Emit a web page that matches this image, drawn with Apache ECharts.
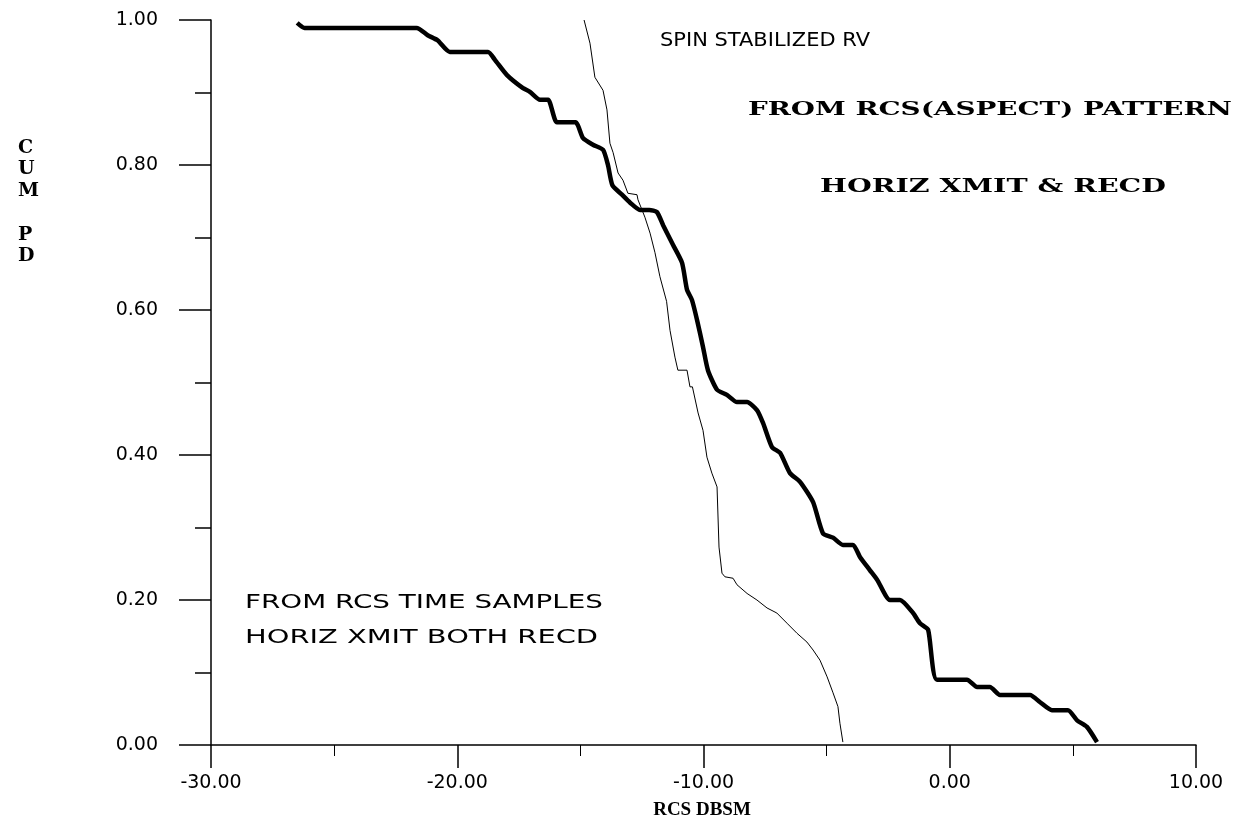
<!DOCTYPE html>
<html lang="en">
<head>
    <meta charset="UTF-8">
    <title>Cum Pd vs RCS</title>
    <script src="https://cdn.jsdelivr.net/npm/echarts@6/dist/echarts.min.js"></script>
    <style>
        html, body { margin: 0; padding: 0; background: #fff; }
        #chart { width: 1256px; height: 838px; }
    </style>
</head>
<body>
<div id="chart"></div>
<script>
    // RCS(aspect) pattern curve - thick line
    var aspectRcs = [-26.5, -26.2, -21.65, -21.2, -20.8, -20.3, -18.75, -18.47, -17.98, -17.33, -17.05,
        -16.64, -16.31, -15.95, -15.2, -14.89, -14.49, -14.08, -13.88, -13.7, -13.31, -12.98, -12.58,
        -12.2, -11.89, -11.64, -11.24, -10.87, -10.67, -10.47, -10.26, -10.02, -9.82, -9.45, -9.05,
        -8.64, -8.23, -7.83, -7.58, -7.22, -6.89, -6.49, -6.08, -5.55, -5.15, -4.74, -4.34, -3.93,
        -3.64, -3.24, -2.95, -2.43, -2.02, -1.49, -1.21, -0.88, -0.52, 0.70, 1.11, 1.63, 2.04, 3.26,
        3.67, 4.15, 4.80, 5.17, 5.57, 5.98];
    var aspectPd = [0.996, 0.989, 0.989, 0.979, 0.972, 0.956, 0.956, 0.945, 0.924, 0.906, 0.901,
        0.890, 0.890, 0.859, 0.859, 0.837, 0.828, 0.821, 0.800, 0.772, 0.759, 0.748, 0.738,
        0.738, 0.735, 0.717, 0.690, 0.665, 0.628, 0.614, 0.586, 0.549, 0.517, 0.490, 0.483,
        0.473, 0.473, 0.462, 0.444, 0.411, 0.403, 0.375, 0.363, 0.335, 0.292, 0.286, 0.276, 0.276,
        0.259, 0.241, 0.228, 0.200, 0.200, 0.182, 0.168, 0.159, 0.090, 0.090, 0.080, 0.080, 0.069, 0.069,
        0.059, 0.048, 0.048, 0.034, 0.025, 0.004];

    // RCS time samples curve - thin line
    var timeRcs = [-14.85, -14.61, -14.41, -14.08, -13.92, -13.80, -13.67, -13.47, -13.27, -13.07,
        -12.70, -12.66, -12.38, -12.17, -11.97, -11.77, -11.5, -11.36, -11.16, -11.04, -10.67,
        -10.55, -10.45, -10.22, -10.02, -9.86, -9.66, -9.45, -9.37, -9.25, -9.13, -8.80, -8.64,
        -8.23, -7.83, -7.42, -7.02, -6.61, -6.20, -5.80, -5.55, -5.27, -4.98, -4.74, -4.54, -4.46, -4.34];
    var timePd = [1.000, 0.968, 0.921, 0.903, 0.876, 0.830, 0.817, 0.789, 0.779, 0.761,
        0.759, 0.752, 0.728, 0.706, 0.679, 0.646, 0.612, 0.572, 0.535, 0.517, 0.517,
        0.494, 0.494, 0.458, 0.434, 0.397, 0.375, 0.356, 0.273, 0.237, 0.232, 0.230, 0.221,
        0.209, 0.200, 0.189, 0.182, 0.168, 0.154, 0.142, 0.131, 0.117, 0.094, 0.072, 0.053, 0.030, 0.004];

    var xTicks = [-30, -20, -10, 0, 10];
    var yTicks = [0, 0.2, 0.4, 0.6, 0.8, 1.0];

    function zip(xs, ys) {
        var out = [];
        for (var i = 0; i < xs.length; i++) out.push([xs[i], ys[i]]);
        return out;
    }

    // stretch a text to a given width (the old plot font is very wide)
    var ctx = document.createElement('canvas').getContext('2d');
    function wideText(str, left, cy, width, font) {
        ctx.font = font;
        var w = ctx.measureText(str).width;
        return {
            type: 'text',
            x: left,
            y: cy,
            scaleX: width / w,
            style: {
                text: str,
                font: font,
                fill: '#000',
                verticalAlign: 'middle'
            },
            silent: true
        };
    }

    var sansFont = '20px "DejaVu Sans"';
    var boldSerif = 'bold 19px "DejaVu Serif"';

    var chart = echarts.init(document.getElementById('chart'));
    var option = {
        animation: false,
        backgroundColor: '#fff',
        grid: { left: 211, top: 20, right: 60, bottom: 93 },
        xAxis: {
            type: 'value',
            min: xTicks[0],
            max: xTicks[xTicks.length - 1],
            interval: 10,
            axisLine: { onZero: false, lineStyle: { color: '#000', width: 1.5 } },
            axisTick: { show: true, length: 23, lineStyle: { color: '#000', width: 1.5 } },
            minorTick: { show: true, splitNumber: 2, length: 11, lineStyle: { color: '#000', width: 1 } },
            axisLabel: {
                color: '#000', fontFamily: 'DejaVu Sans', fontSize: 19, margin: 29,
                formatter: function (v) { return v.toFixed(2); }
            },
            splitLine: { show: false }
        },
        yAxis: {
            type: 'value',
            min: yTicks[0],
            max: yTicks[yTicks.length - 1],
            interval: 0.2,
            axisLine: { onZero: false, lineStyle: { color: '#000', width: 1.5 } },
            axisTick: { show: true, length: 32, lineStyle: { color: '#000', width: 1.5 } },
            minorTick: { show: true, splitNumber: 2, length: 16, lineStyle: { color: '#000', width: 1.5 } },
            axisLabel: {
                color: '#000', fontFamily: 'DejaVu Sans', fontSize: 19, margin: 53,
                formatter: function (v) { return v.toFixed(2); }
            },
            splitLine: { show: false }
        },
        graphic: [
            wideText('SPIN STABILIZED RV', 660, 41, 210, sansFont),
            wideText('FROM RCS(ASPECT) PATTERN', 748, 110, 484, boldSerif),
            wideText('HORIZ XMIT & RECD', 820, 187, 346, boldSerif),
            wideText('FROM RCS TIME SAMPLES', 245, 603, 358, sansFont),
            wideText('HORIZ XMIT BOTH RECD', 245, 638, 353, sansFont),
            {
                type: 'text',
                x: 702, y: 810,
                style: {
                    text: 'RCS DBSM',
                    font: 'bold 19px "Liberation Serif"',
                    fill: '#000',
                    align: 'center',
                    verticalAlign: 'middle'
                }
            },
            {
                type: 'text',
                x: 18, y: 137,
                style: {
                    text: 'C\nU\nM\n\nP\nD',
                    font: 'bold 19px "DejaVu Serif"',
                    lineHeight: 21.7,
                    fill: '#000'
                }
            }
        ],
        series: [{
            name: 'FROM RCS(ASPECT) PATTERN',
            type: 'line',
            showSymbol: false,
            smooth: 0.2,
            lineStyle: { color: '#000', width: 4.5 },
            data: zip(aspectRcs, aspectPd)
        }, {
            name: 'FROM RCS TIME SAMPLES',
            type: 'line',
            showSymbol: false,
            lineStyle: { color: '#000', width: 1 },
            data: zip(timeRcs, timePd)
        }]
    };
    chart.setOption(option);
</script>
</body>
</html>
